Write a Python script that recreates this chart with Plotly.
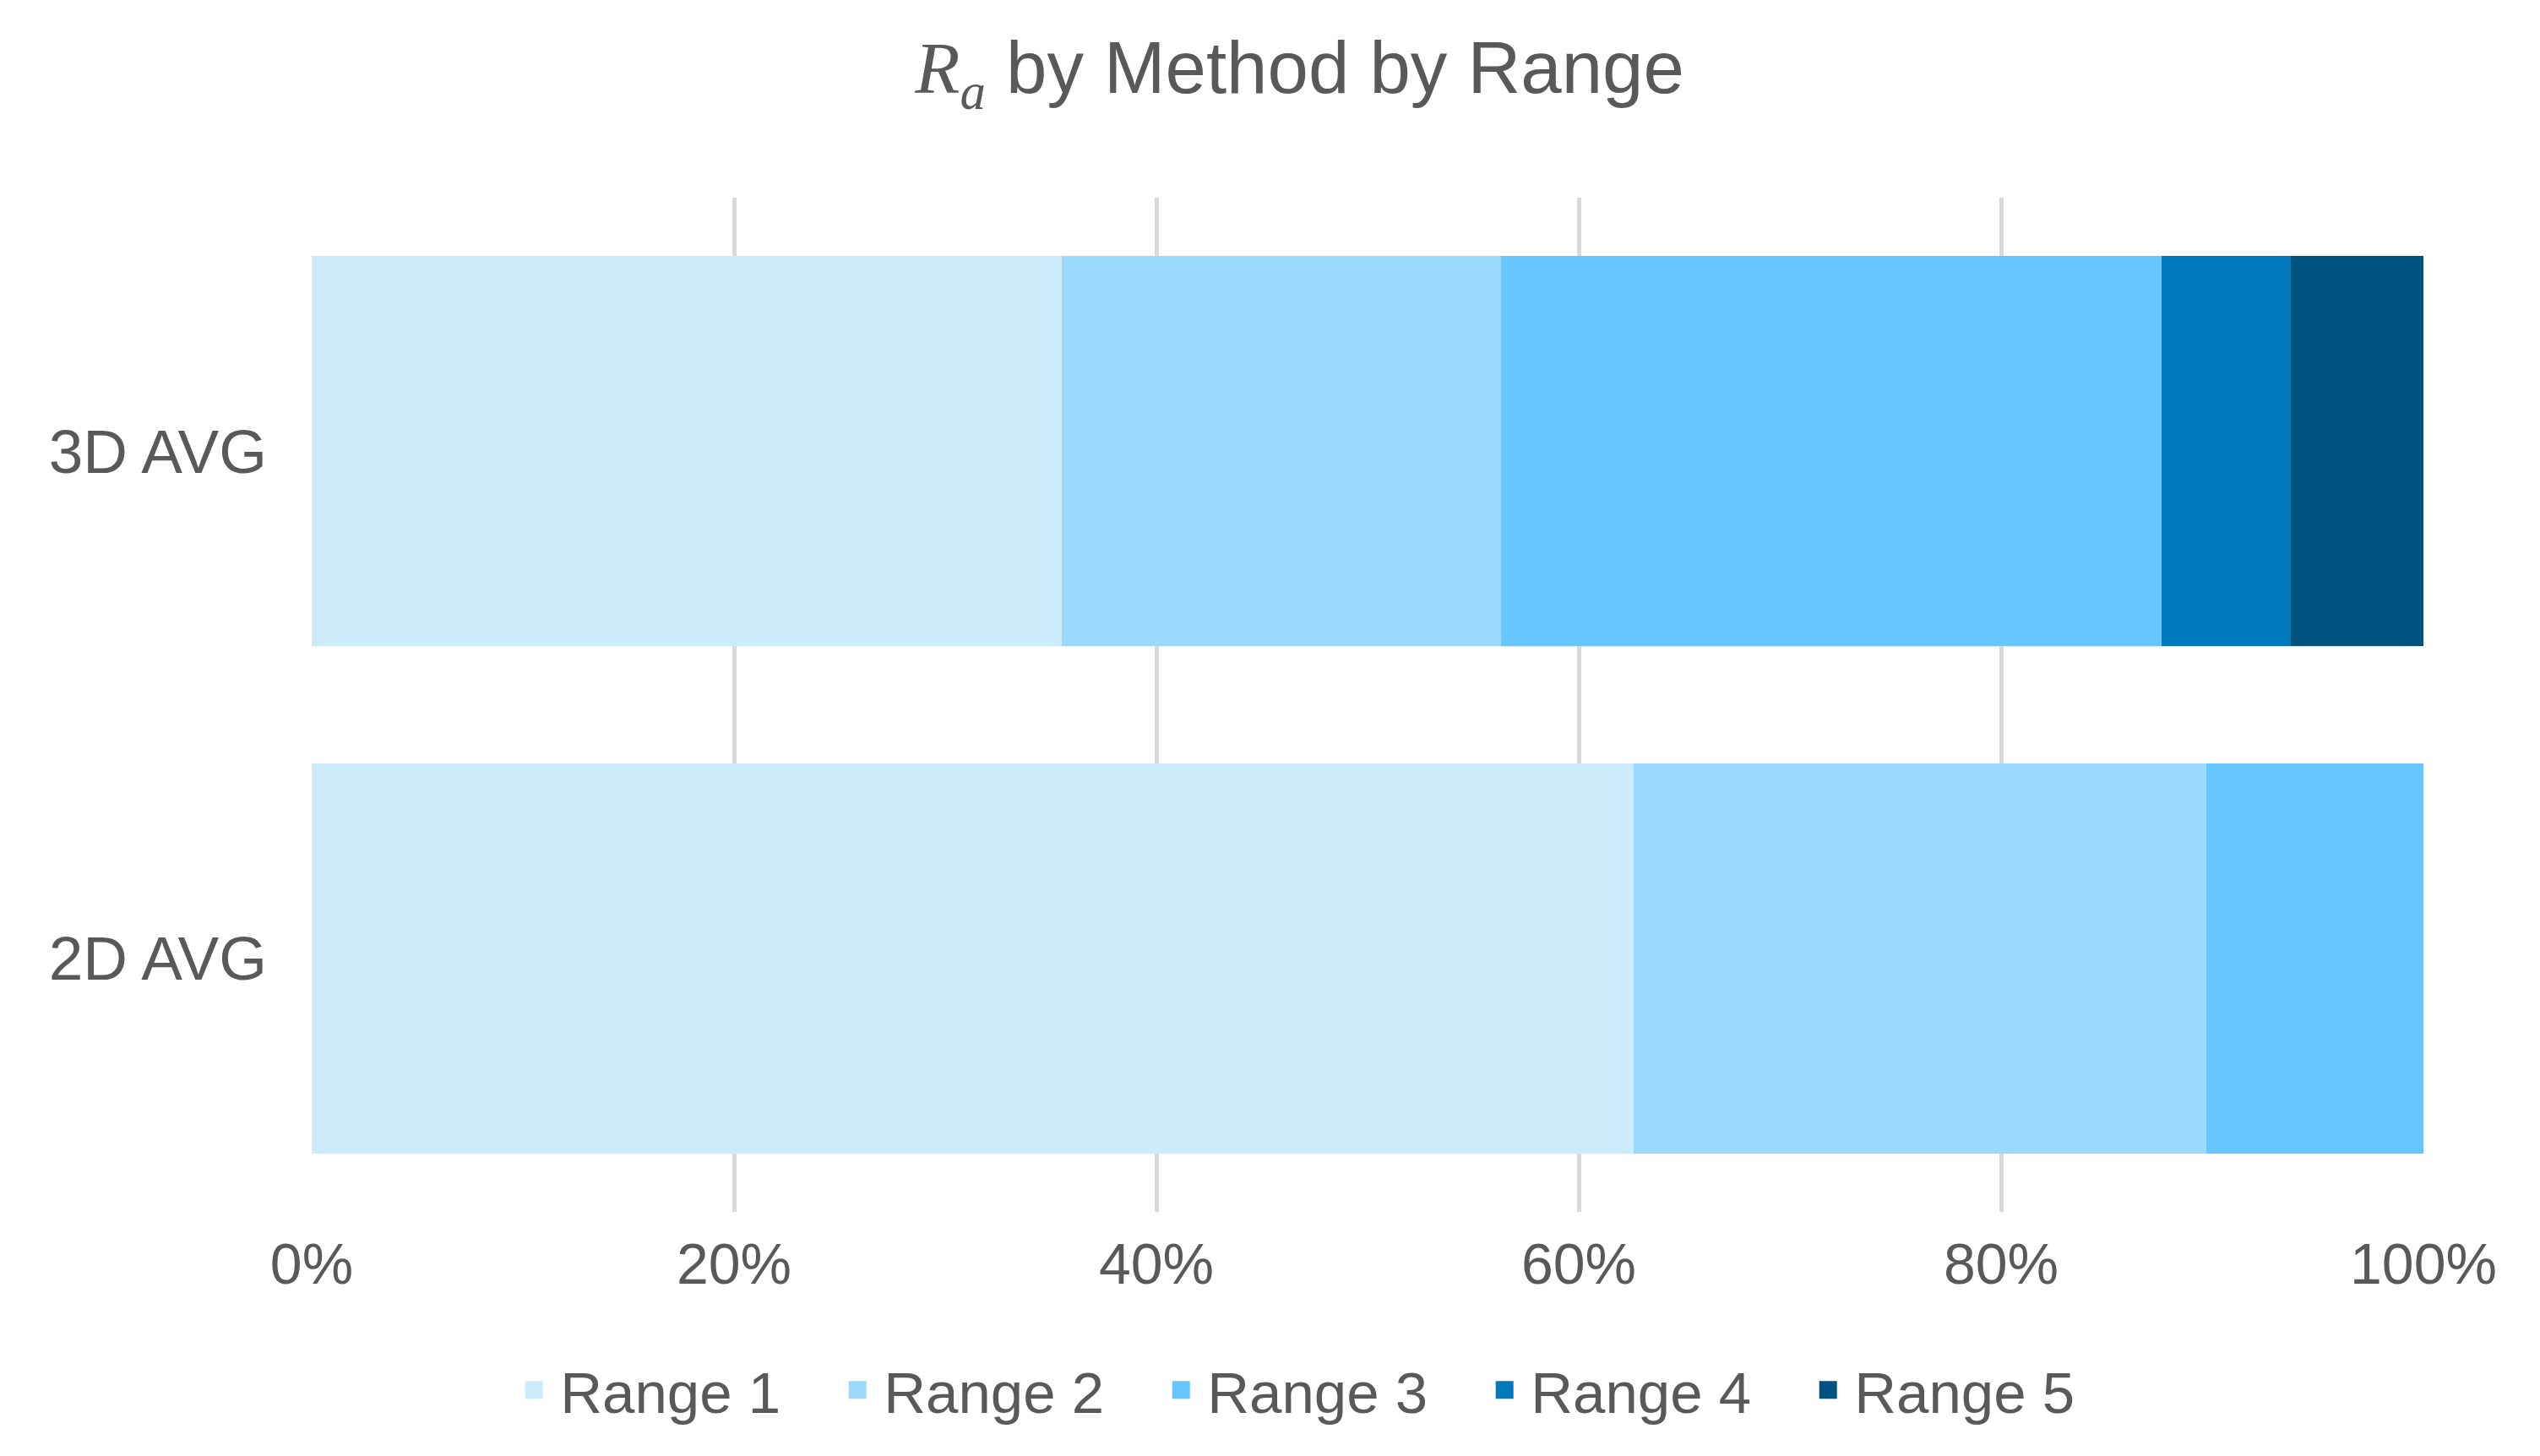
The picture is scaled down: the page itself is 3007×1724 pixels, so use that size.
import plotly.graph_objects as go

categories = ["2D AVG", "3D AVG"]
series_names = ["Range 1", "Range 2", "Range 3", "Range 4", "Range 5"]
range1 = [62.6, 35.5]
range2 = [27.1, 20.8]
range3 = [10.3, 31.3]
range4 = [None, 6.1]
range5 = [None, 6.3]
colors = ["#CCEBFD", "#9BDAFD", "#66C6FD", "#0079BD", "#00527F"]
x_ticks = [0, 20, 40, 60, 80, 100]
x_tick_labels = ["0%", "20%", "40%", "60%", "80%", "100%"]

values = [range1, range2, range3, range4, range5]
FONT = "Liberation Sans, Arial, sans-serif"
GRAY = "#595959"
OFF = 8  # page body margin

fig = go.Figure()
for name, vals, col in zip(series_names, values, colors):
    fig.add_trace(go.Bar(
        y=categories, x=vals, name=name, orientation="h",
        marker=dict(color=col, line=dict(width=0)),
        legendgroup=name, showlegend=False,
    ))
    # legend entry with a larger square swatch
    fig.add_trace(go.Scatter(
        x=[None], y=[None], mode="markers", name=name, legendgroup=name,
        marker=dict(symbol="square", size=16, color=col,
                    line=dict(color=col, width=5)),
        showlegend=True, hoverinfo="skip",
    ))

fig.update_layout(
    barmode="stack",
    bargap=0.23,
    width=3007, height=1724,
    paper_bgcolor="white", plot_bgcolor="white",
    margin=dict(l=369 - OFF, r=138 + OFF, t=234 - OFF, b=289 + OFF),
    font=dict(family=FONT, size=68, color=GRAY),
    title=dict(
        text="<span style='font-family:Liberation Serif, Times New Roman, serif'><i>R</i><sub><i>a</i></sub></span> by Method by Range",
        x=0.509, xref="container", xanchor="center",
        y=1 - (80 - OFF) / 1724, yref="container", yanchor="middle",
        font=dict(family=FONT, size=87, color=GRAY),
    ),
    xaxis=dict(
        range=[0, 100], tickvals=x_ticks, ticktext=x_tick_labels,
        showgrid=True, gridcolor="#D9D9D9", gridwidth=5,
        zeroline=False, showline=False, ticks="",
        tickfont=dict(size=68, color=GRAY), ticklabelstandoff=16,
    ),
    yaxis=dict(
        type="category", categoryorder="array", categoryarray=categories,
        showgrid=False, zeroline=False, showline=False, ticks="",
        tickfont=dict(size=73, color=GRAY), ticklabelstandoff=52,
    ),
    legend=dict(
        orientation="h", x=0.5157, xref="container", xanchor="center",
        y=1 - (1646 - OFF) / 1724, yref="container", yanchor="middle",
        font=dict(size=69, color=GRAY), traceorder="normal",
        itemsizing="trace", itemwidth=52, entrywidth=316,
    ),
    showlegend=True,
)

fig.write_html("out.html")
